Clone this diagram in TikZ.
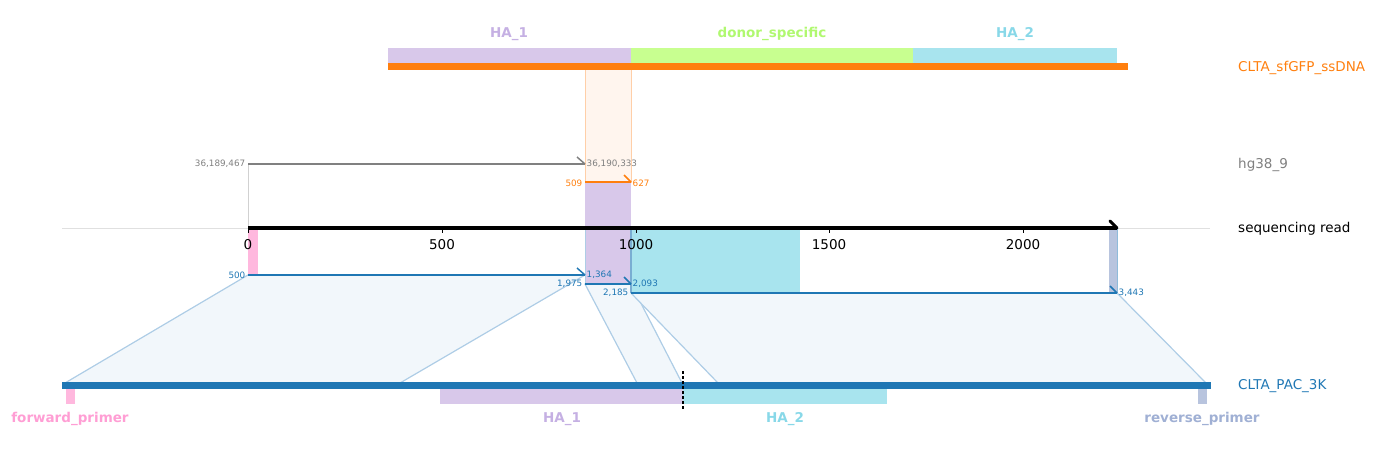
\documentclass[tikz,border=0pt]{standalone}
\usepackage{fontspec}
\setmainfont{DejaVu Sans}
\definecolor{corange}{HTML}{FF7F0E}
\definecolor{cblue}{HTML}{1F77B4}
\definecolor{cgray}{HTML}{808080}
\definecolor{haone}{HTML}{D8C8EA}
\definecolor{haonelab}{HTML}{C5B0E3}
\definecolor{donor}{HTML}{C8FF90}
\definecolor{donorlab}{HTML}{B0F870}
\definecolor{hatwo}{HTML}{A8E4EE}
\definecolor{hatwolab}{HTML}{88D8E8}
\definecolor{pinkf}{HTML}{FFB8DE}
\definecolor{pinklab}{HTML}{FF9ED4}
\definecolor{revf}{HTML}{B8C4DE}
\definecolor{revlab}{HTML}{A0B0D4}
\definecolor{polyfill}{HTML}{F2F7FB}
\definecolor{polyline}{HTML}{AECDE6}
\definecolor{bandfill}{HTML}{FFF5EE}
\definecolor{bandline}{HTML}{FFCFA8}
\begin{document}
\begin{tikzpicture}[x=1pt,y=-1pt,
  poly/.style={fill=polyfill,draw=polyline,line width=1.2pt,line join=round},
  ticklab/.style={font=\fontsize{13.5}{15}\selectfont,anchor=north,inner sep=0pt},
  smalllab/.style={font=\fontsize{8.8}{10}\selectfont,inner sep=1.5pt},
  tracklab/.style={font=\fontsize{13.5}{15}\selectfont,anchor=west,inner sep=0pt},
  featlab/.style={font=\bfseries\fontsize{13.5}{15}\selectfont,inner sep=0pt},
  hook/.style={line width=1.5pt}]
\useasboundingbox (0,0) rectangle (1381,453);

% alignment polygons
\filldraw[poly] (248,275) -- (585,275) -- (400,383) -- (65,383) -- cycle;
\filldraw[poly] (585,284) -- (631,284) -- (682,383) -- (637,383) -- cycle;
\filldraw[poly] (631,293) -- (1117,293) -- (1206,383) -- (718,383) -- cycle;

% orange band
\filldraw[fill=bandfill,draw=bandline,line width=0.8pt] (585,69) rectangle (631,182);

% features on read
\fill[haone] (585,182) rectangle (631,284);
\fill[hatwo] (631,228) rectangle (800,293);
\fill[pinkf] (248,228) rectangle (258,275);
\fill[revf] (1109,228) rectangle (1117,293);

% guide lines
\draw[black!12,line width=0.8pt] (62,228) -- (1210,228);
\draw[black!18,line width=0.8pt] (248,164) -- (248,228);
\draw[polyline,line width=0.8pt] (585,228) -- (585,284);
\draw[cblue!60,line width=1.2pt] (631,228) -- (631,293);
\draw[cblue!50,line width=0.8pt] (1117,228) -- (1117,293);

% sequencing read axis
\draw[line width=4pt] (248,228) -- (1117,228);
\draw[line width=3pt,line cap=round] (1110,221) -- (1117,228);
\foreach \v/\x in {0/248,500/442,1000/636,1500/829,2000/1023}{
  \draw[line width=1pt] (\x,228) -- (\x,233);
  \node[ticklab] (t\v) at (\x,239.5) {\v};
}

% hg38 alignment
\draw[cgray,line width=2pt] (248,164) -- (585,164);
\draw[cgray,hook] (577,157) -- (585,164);
\node[smalllab,text=cgray,anchor=east] (g1) at (247,164) {36,189,467};
\node[smalllab,text=cgray,anchor=west] (g2) at (585,164) {36,190,333};

% ssDNA alignment
\draw[corange,line width=2pt] (585,182) -- (631,182);
\draw[corange,hook] (624,175) -- (631,182);
\node[smalllab,text=corange,anchor=east] (o1) at (584,183) {509};
\node[smalllab,text=corange,anchor=west] (o2) at (631,183) {627};

% PAC alignments
\draw[cblue,line width=2pt] (248,275) -- (585,275);
\draw[cblue,hook] (577,268) -- (585,275);
\node[smalllab,text=cblue,anchor=east] (b1) at (247,275) {500};
\node[smalllab,text=cblue,anchor=west] (b2) at (585,275) {1,364};
\draw[cblue,line width=2pt] (585,284) -- (631,284);
\draw[cblue,hook] (624,277) -- (631,284);
\node[smalllab,text=cblue,anchor=east] (b3) at (584,284) {1,975};
\node[smalllab,text=cblue,anchor=west] (b4) at (631,284) {2,093};
\draw[cblue,line width=2pt] (631,293) -- (1117,293);
\draw[cblue,hook] (1110,286) -- (1117,293);
\node[smalllab,text=cblue,anchor=east] (b5) at (630,293) {2,185};
\node[smalllab,text=cblue,anchor=west] (b6) at (1117,293) {3,443};

% ssDNA track
\fill[haone] (388,48) rectangle (631,63);
\fill[donor] (631,48) rectangle (913,63);
\fill[hatwo] (913,48) rectangle (1117,63);
\fill[corange] (388,63) rectangle (1128,70);
\node[featlab,text=haonelab] (s1) at (509,34) {HA\_1};
\node[featlab,text=donorlab] (s2) at (772,34) {donor\_specific};
\node[featlab,text=hatwolab] (s3) at (1015,34) {HA\_2};

% PAC track
\fill[cblue] (62,382) rectangle (1211,389);
\fill[pinkf] (66,389) rectangle (75,404);
\fill[haone] (440,389) rectangle (683,404);
\fill[hatwo] (683,389) rectangle (887,404);
\fill[revf] (1198,389) rectangle (1207,404);
\draw[black,line width=1.2pt,dash pattern=on 3pt off 2pt] (683,371) -- (683,409);
\node[featlab,text=pinklab] (p1) at (70,419) {forward\_primer};
\node[featlab,text=haonelab] (p2) at (562,419) {HA\_1};
\node[featlab,text=hatwolab] (p3) at (785,419) {HA\_2};
\node[featlab,text=revlab] (p4) at (1202,419) {reverse\_primer};

% track labels
\node[tracklab,text=corange] (l1) at (1238,67.5) {CLTA\_sfGFP\_ssDNA};
\node[tracklab,text=cgray] (l2) at (1238,165) {hg38\_9};
\node[tracklab,text=black] (l3) at (1238,229) {sequencing read};
\node[tracklab,text=cblue] (l4) at (1238,386) {CLTA\_PAC\_3K};
\end{tikzpicture}
\end{document}
